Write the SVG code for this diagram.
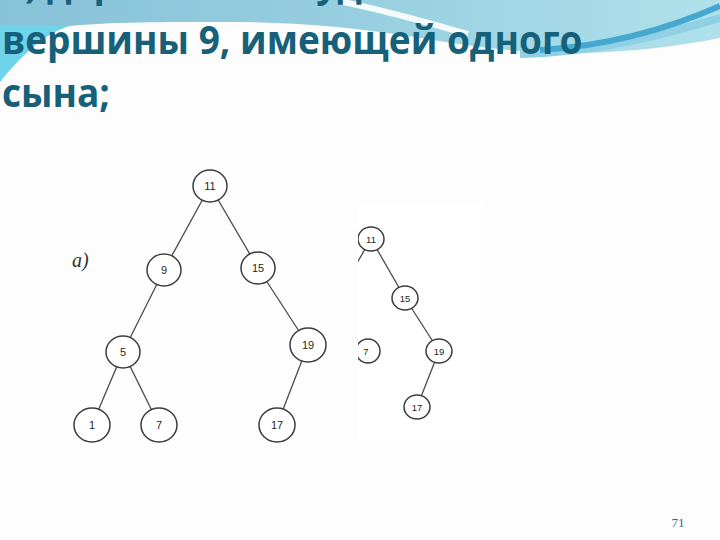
<svg xmlns="http://www.w3.org/2000/svg" width="720" height="540" viewBox="0 0 720 540">
<style>
.title{font-family:"Open Sans","Noto Sans",sans-serif;font-weight:bold;font-size:39px;fill:#17607a}
.edge{stroke:#4a4a4a;stroke-width:1.3;fill:none}
.node{fill:#fff;stroke:#3c3c3c;stroke-width:1.5}
.lbl{font-family:"Liberation Sans",Arial,sans-serif;font-size:11px;fill:#262626;text-anchor:middle}
.lbl2{font-family:"Liberation Sans",Arial,sans-serif;font-size:9.5px;fill:#262626;text-anchor:middle}
</style>
<defs>
<linearGradient id="topg" x1="0" y1="0" x2="1" y2="0">
<stop offset="0" stop-color="#88c2d8"/>
<stop offset="0.5" stop-color="#97cfe0"/>
<stop offset="1" stop-color="#b0e1eb"/>
</linearGradient>
<clipPath id="panel"><rect x="358" y="205" width="125" height="235"/></clipPath>
</defs>
<rect x="0" y="0" width="720" height="540" fill="#fdfdfd"/>
<g id="background">
<path d="M0,0 H720 V38 C 680,46 630,52 580,53 C 520,54 470,46 420,38 C 360,28 300,22 230,22 C 160,22 110,22 70,26 L0,26 Z" fill="url(#topg)"/>
<path d="M0,26 L70,26 C 48,32 24,52 0,82 Z" fill="#6fd3ea"/>
<path d="M338,1 C 385,10 425,22 468,34" stroke="#ffffff" stroke-width="6" fill="none" opacity="0.9"/>
<path d="M520,54 C 600,52 665,34 720,18" stroke="#8fd0e4" stroke-width="8" fill="none"/>
<path d="M540,50 C 610,46 670,28 720,6" stroke="#45a8cf" stroke-width="6" fill="none"/>
<rect x="358" y="205" width="125" height="235" fill="#ffffff"/>
</g>
<g id="title" transform="scale(0.95 1)">
<text class="title" x="2" y="-3">б) дерево после удаления</text>
<text class="title" x="2" y="54">вершины 9, имеющей одного</text>
<text class="title" x="2" y="107">сына;</text>
</g>
<text id="label-a" x="72" y="267" font-family="Liberation Serif,serif" font-style="italic" font-size="20" fill="#333">а)</text>
<g id="connectors">
<line class="edge" x1="210" y1="186" x2="164" y2="270"/>
<line class="edge" x1="210" y1="186" x2="258" y2="268"/>
<line class="edge" x1="164" y1="270" x2="123" y2="352"/>
<line class="edge" x1="258" y1="268" x2="308" y2="345"/>
<line class="edge" x1="123" y1="352" x2="92" y2="425"/>
<line class="edge" x1="123" y1="352" x2="159" y2="425"/>
<line class="edge" x1="308" y1="345" x2="277" y2="425"/>
<g clip-path="url(#panel)">
<line class="edge" x1="371" y1="239" x2="350" y2="275"/>
<line class="edge" x1="371" y1="239" x2="405" y2="298"/>
<line class="edge" x1="405" y1="298" x2="439" y2="351"/>
<line class="edge" x1="439" y1="351" x2="417" y2="407"/>
</g>
</g>
<g id="n11"><ellipse class="node" cx="210" cy="186" rx="17" ry="16"/><text class="lbl" x="210" y="190">11</text></g>
<g id="n9"><ellipse class="node" cx="164" cy="270" rx="17" ry="16"/><text class="lbl" x="164" y="274">9</text></g>
<g id="n15"><ellipse class="node" cx="258" cy="268" rx="17" ry="16"/><text class="lbl" x="258" y="272">15</text></g>
<g id="n5"><ellipse class="node" cx="123" cy="352" rx="17" ry="16"/><text class="lbl" x="123" y="356">5</text></g>
<g id="n19"><ellipse class="node" cx="308" cy="345" rx="18" ry="17"/><text class="lbl" x="308" y="349">19</text></g>
<g id="n1"><ellipse class="node" cx="92" cy="425" rx="18" ry="17"/><text class="lbl" x="92" y="429">1</text></g>
<g id="n7"><ellipse class="node" cx="159" cy="425" rx="18" ry="17"/><text class="lbl" x="159" y="429">7</text></g>
<g id="n17"><ellipse class="node" cx="277" cy="425" rx="18" ry="17"/><text class="lbl" x="277" y="429">17</text></g>
<g clip-path="url(#panel)">
<g id="r11"><ellipse class="node" cx="371" cy="239" rx="13" ry="12"/><text class="lbl2" x="371" y="242.5">11</text></g>
<g id="r7"><ellipse class="node" cx="368" cy="351" rx="12" ry="12"/><text class="lbl2" x="366" y="354.5">7</text></g>
<g id="r15"><ellipse class="node" cx="405" cy="298" rx="13" ry="12"/><text class="lbl2" x="405" y="301.5">15</text></g>
<g id="r19"><ellipse class="node" cx="439" cy="351" rx="13" ry="12"/><text class="lbl2" x="439" y="354.5">19</text></g>
<g id="r17"><ellipse class="node" cx="417" cy="407" rx="13" ry="12"/><text class="lbl2" x="417" y="410.5">17</text></g>
</g>
<text id="page" x="678" y="527" text-anchor="middle" font-family="Liberation Serif,serif" font-size="13" fill="#2b6f86">71</text>
</svg>
